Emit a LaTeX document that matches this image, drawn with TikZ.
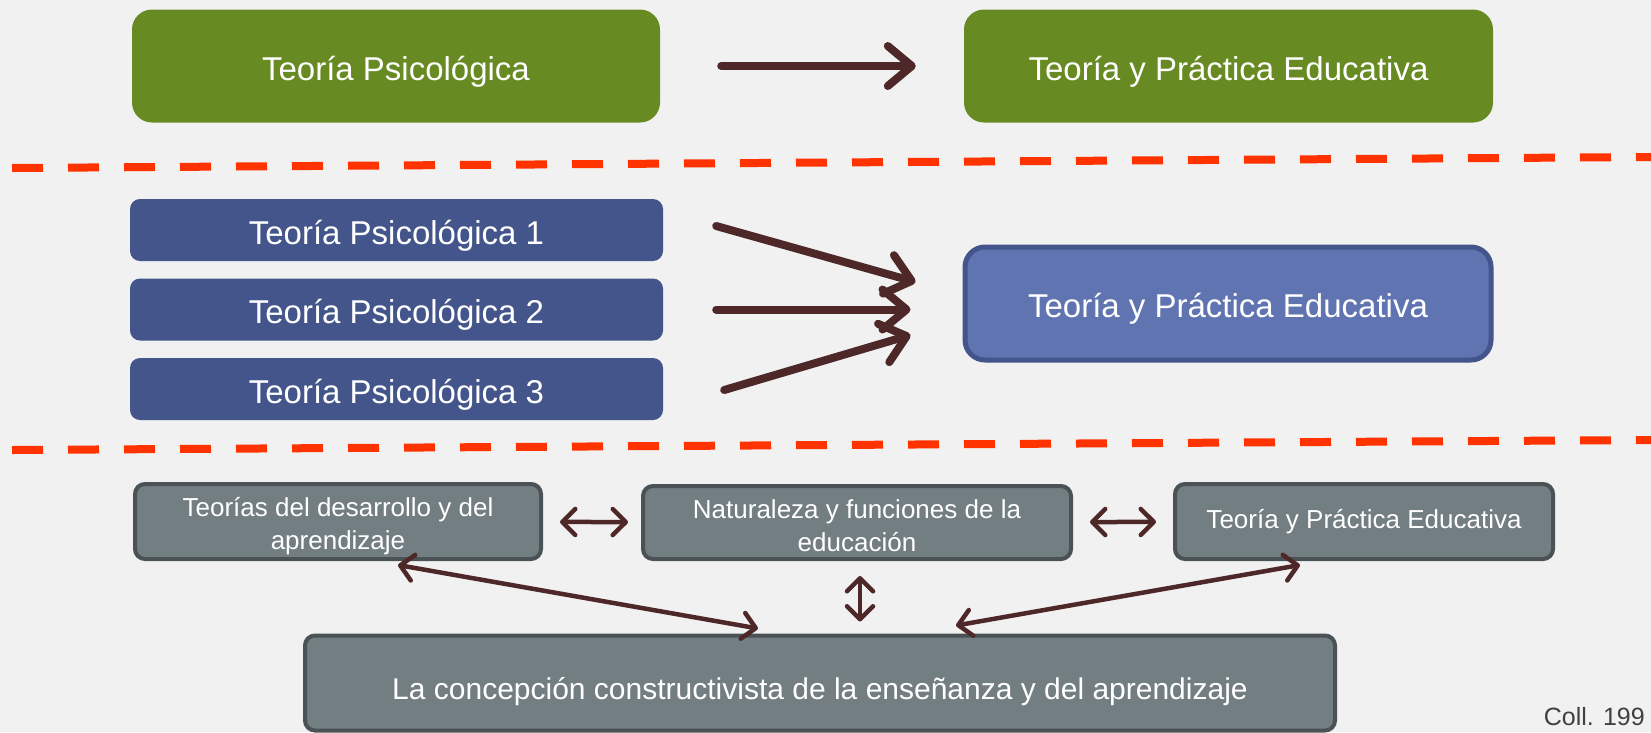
\documentclass[tikz,border=0pt]{standalone}
\usepackage{fontspec}
\setmainfont{Liberation Sans}
\usetikzlibrary{arrows.meta}
\definecolor{paper}{RGB}{241,241,241}
\definecolor{leafgreen}{RGB}{103,138,34}
\definecolor{theoryblue}{RGB}{67,85,138}
\definecolor{practiceblue}{RGB}{95,116,176}
\definecolor{slategray}{RGB}{115,126,130}
\definecolor{slateedge}{RGB}{74,82,86}
\definecolor{arrowbrown}{RGB}{78,40,40}
\definecolor{dividerred}{RGB}{255,51,0}
\tikzstyle{greenbox}=[rectangle,fill=leafgreen,rounded corners=20pt,minimum height=113pt,text=white,font=\fontsize{33}{38}\selectfont,text height=28pt,text depth=0pt]
\tikzstyle{theorybox}=[rectangle,fill=theoryblue,rounded corners=10pt,minimum width=533pt,minimum height=62pt,text=white,font=\fontsize{33}{38}\selectfont,text height=28pt,text depth=0pt]
\tikzstyle{practicebox}=[rectangle,draw=theoryblue,line width=5pt,fill=practiceblue,rounded corners=20pt,minimum width=526pt,minimum height=113pt,text=white,font=\fontsize{33}{38}\selectfont,text height=28pt,text depth=0pt]
\tikzstyle{graybox}=[rectangle,draw=slateedge,line width=4pt,fill=slategray,rounded corners=10pt,text=white,align=center,font=\fontsize{26}{33}\selectfont]
\tikzstyle{bigarrow}=[draw=arrowbrown,line width=8pt,line cap=round,-{Straight Barb[length=24pt,width=40pt,round]}]
\tikzstyle{smallarrow}=[draw=arrowbrown,line width=4.5pt,{Straight Barb[length=13pt,width=26pt,round]}-{Straight Barb[length=13pt,width=26pt,round]}]
\tikzstyle{divider}=[draw=dividerred,line width=8pt,dash pattern=on 31pt off 25pt]

\begin{document}
\begin{tikzpicture}[x=1pt,y=-1pt,inner sep=1mm]
	\useasboundingbox (0,0) rectangle (1651,732);
	\clip (0,0) rectangle (1651,732);
	\fill[paper] (0,0) rectangle (1651,732);
	
	% one theory
	\node[greenbox, minimum width=528pt] (psico) at (396, 66) {Teoría Psicológica};
	\node[greenbox, minimum width=529pt] (educa) at (1228.5, 66) {Teoría y Práctica Educativa};
	\draw[bigarrow, shorten <=61pt, shorten >=48pt] (psico) -- (educa);
	
	\draw[divider] (12, 168) -- (1651, 157);
	
	% several theories
	\node[theorybox] (psico1) at (396.5, 230) {Teoría Psicológica 1};
	\node[theorybox] (psico2) at (396.5, 309.5) {Teoría Psicológica 2};
	\node[theorybox] (psico3) at (396.5, 389) {Teoría Psicológica 3};
	\node[practicebox] (practica) at (1228, 303.5) {Teoría y Práctica Educativa};
	
	\draw[bigarrow] ([shift={(53,-4)}]psico1.east) -- ([shift={(-47,-21.5)}]practica.west);
	\draw[bigarrow] ([shift={(53,0)}]psico2.east) -- ([shift={(-52,6)}]practica.west);
	\draw[bigarrow] ([shift={(61,1)}]psico3.east) -- ([shift={(-52,31.5)}]practica.west);
	
	\draw[divider] (12, 450) -- (1651, 440);
	
	% constructivist frame
	\node[graybox, minimum width=406pt, minimum height=75pt] (desarrollo) at (338, 521.5) {\rule{0pt}{29pt}Teorías del desarrollo y del\\aprendizaje};
	\node[graybox, minimum width=428pt, minimum height=73pt] (naturaleza) at (857, 522.5) {\rule{0pt}{25pt}Naturaleza y funciones de la\\educación};
	\node[graybox, minimum width=378pt, minimum height=75pt] (teoria) at (1364, 521.5) {Teoría y Práctica Educativa};
	\node[graybox, minimum width=1030pt, minimum height=95pt, font=\fontsize{30}{36}\selectfont, text height=33pt, text depth=0pt] (concepcion) at (820, 683) {La concepción constructivista de la enseñanza y del aprendizaje};
	
	\draw[smallarrow, shorten <=17pt, shorten >=13pt] (desarrollo) -- (naturaleza);
	\draw[smallarrow, shorten <=17pt, shorten >=17pt] (naturaleza) -- (teoria);
	\draw[smallarrow] ([shift={(60,4)}]desarrollo.south) -- ([shift={(-62,-5)}]concepcion.north);
	\draw[smallarrow] ([shift={(3,15)}]naturaleza.south) -- ([shift={(40,-12)}]concepcion.north);
	\draw[smallarrow] ([shift={(-64,4)}]teoria.south) -- ([shift={(136,-8)}]concepcion.north);
	
	\node[anchor=base east, inner sep=0pt, text=black!75, font=\fontsize{25}{30}\selectfont] (fuente) at (1645, 725) {Coll. 199};
\end{tikzpicture}
\end{document}
